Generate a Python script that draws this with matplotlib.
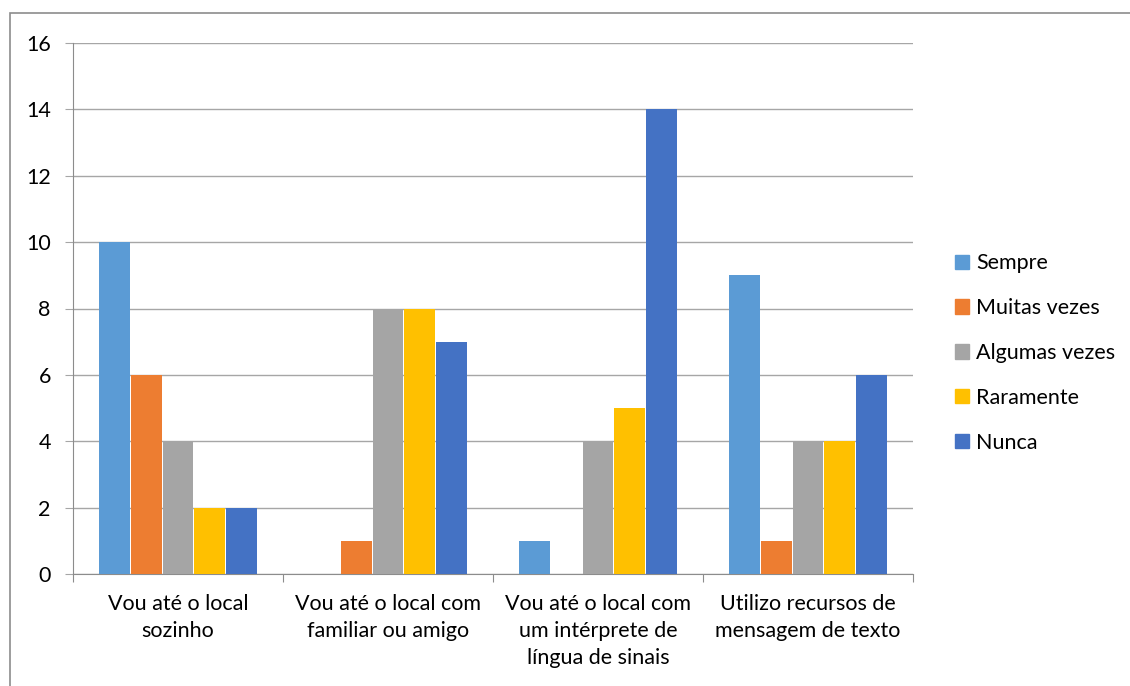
import matplotlib.pyplot as plt
import matplotlib.patches as mpatches
import numpy as np

plt.rcParams['font.family'] = ['Lato', 'DejaVu Sans']

categories = ['Vou até o local\nsozinho',
              'Vou até o local com\nfamiliar ou amigo',
              'Vou até o local com\num intérprete de\nlíngua de sinais',
              'Utilizo recursos de\nmensagem de texto']
series = ['Sempre', 'Muitas vezes', 'Algumas vezes', 'Raramente', 'Nunca']
sempre = [10, 0, 1, 9]
muitas = [6, 1, 0, 1]
algumas = [4, 8, 4, 4]
raramente = [2, 8, 5, 4]
nunca = [2, 7, 14, 6]
colors = ['#5B9BD5', '#ED7D31', '#A5A5A5', '#FFC000', '#4472C4']

values = [sempre, muitas, algumas, raramente, nunca]

fig = plt.figure(figsize=(11.3, 6.86), dpi=100)
ax = fig.add_axes([73 / 1130, 1 - 574 / 686, 840 / 1130, 531 / 686])

# outer chart border
fig.add_artist(mpatches.Rectangle((10 / 1130, -0.1), 1.2, 1 - 13 / 686 + 0.1,
                                  transform=fig.transFigure, fill=False,
                                  edgecolor='#8c8c8c', linewidth=1.2))

x = np.arange(len(categories))
w = 0.152
for i, (vals, c) in enumerate(zip(values, colors)):
    ax.bar(x + (i - 2) * w, vals, width=w * 0.97, color=c, label=series[i], zorder=3)

ax.set_xlim(-0.5, 3.5)
ax.set_ylim(0, 16)
ax.set_yticks(range(0, 17, 2))
ax.yaxis.grid(True, color='#a6a6a6', linewidth=1, zorder=0)
for s in ['top', 'right']:
    ax.spines[s].set_visible(False)
for s in ['left', 'bottom']:
    ax.spines[s].set_color('#8c8c8c')
ax.tick_params(axis='y', length=6, color='#a6a6a6', labelsize=15.5, pad=10)

ax.set_xticks([-0.5, 0.5, 1.5, 2.5, 3.5])
ax.set_xticklabels([])
ax.tick_params(axis='x', length=6, color='#8c8c8c')
for xi, lab in zip(x, categories):
    ax.text(xi, -0.6, lab, ha='center', va='top', fontsize=15.5,
            linespacing=1.45, transform=ax.transData)

handles = [mpatches.Patch(color=c, label=s) for c, s in zip(colors, series)]
fig.legend(handles=handles, loc='center left', bbox_to_anchor=(936 / 1130, 1 - 353 / 686),
           frameon=False, fontsize=15.5, handlelength=0.65, handleheight=0.65,
           handletextpad=0.3, labelspacing=1.15)

fig.savefig('out.png', dpi=100)
